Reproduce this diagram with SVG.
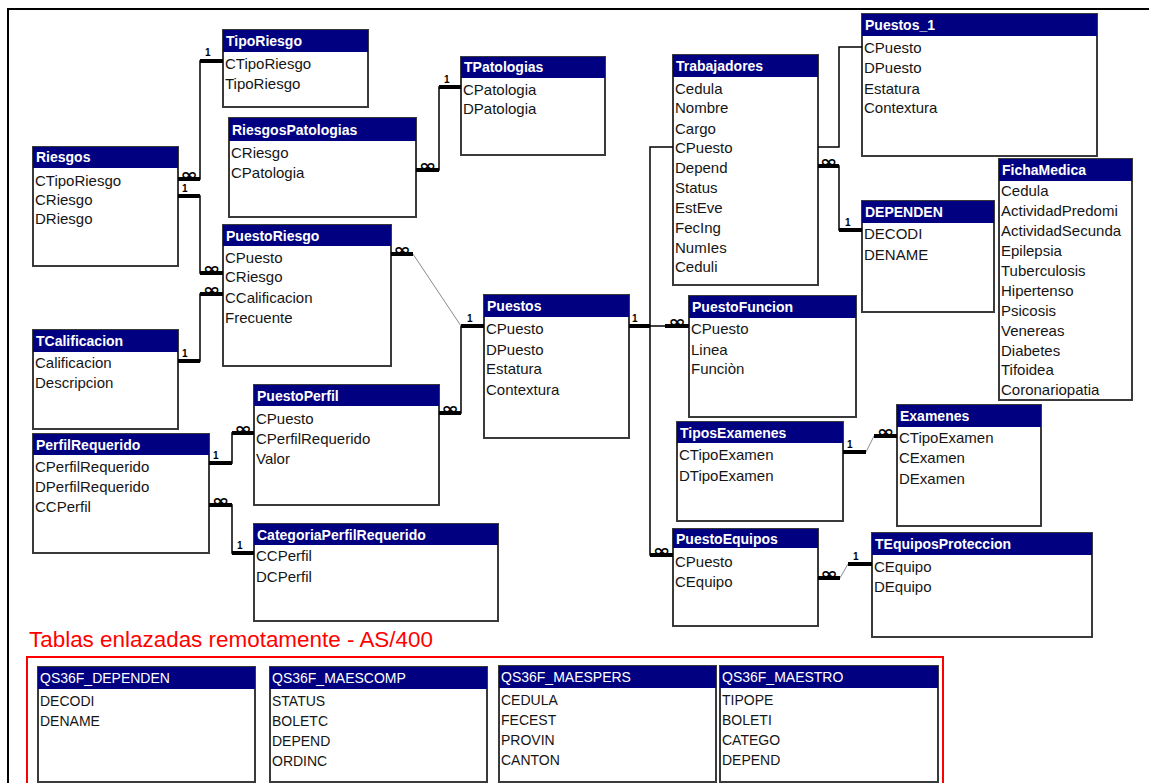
<svg xmlns="http://www.w3.org/2000/svg" width="1149" height="783" viewBox="0 0 1149 783">
<style>
.box{fill:#fff;stroke:#3a3a3a;stroke-width:2}
.hd{fill:#000080}
.ht{font:bold 14px "Liberation Sans",Arial,sans-serif;fill:#fff}
.f{font:15px "Liberation Sans",Arial,sans-serif;fill:#151515}
.hr{font:14px "Liberation Sans",Arial,sans-serif;fill:#fff}
.fr{font:14px "Liberation Sans",Arial,sans-serif;fill:#151515}
.ln{fill:none;stroke:#000;stroke-width:1.5}
.lg{fill:none;stroke:#8a8a8a;stroke-width:1}
.stub{fill:#000}
.one{font:bold 10px "Liberation Sans",Arial,sans-serif;fill:#000}
.inf{font:bold 16px "DejaVu Sans",sans-serif;fill:#000;text-anchor:middle}
.title{font:22px "Liberation Sans",Arial,sans-serif;fill:#f00}
</style>
<rect x="0" y="0" width="1149" height="783" fill="#fff"/>
<rect x="8" y="9" width="1160" height="800" fill="none" stroke="#000" stroke-width="2"/>

<g id="TipoRiesgo"><rect class="box" x="223" y="30" width="145" height="77"/><rect class="hd" x="223" y="30" width="145" height="22"/><text class="ht" x="226" y="46">TipoRiesgo</text><text class="f" x="225" y="69">CTipoRiesgo</text><text class="f" x="225" y="89">TipoRiesgo</text></g>

<g id="TPatologias"><rect class="box" x="461" y="57" width="144" height="98"/><rect class="hd" x="461" y="57" width="144" height="21"/><text class="ht" x="464" y="72">TPatologias</text><text class="f" x="463" y="95">CPatologia</text><text class="f" x="463" y="114">DPatologia</text></g>

<g id="Trabajadores"><rect class="box" x="673" y="55" width="145" height="230"/><rect class="hd" x="673" y="55" width="145" height="22"/><text class="ht" x="676" y="71">Trabajadores</text><text class="f" x="675" y="94">Cedula</text><text class="f" x="675" y="113">Nombre</text><text class="f" x="675" y="134">Cargo</text><text class="f" x="675" y="153">CPuesto</text><text class="f" x="675" y="173">Depend</text><text class="f" x="675" y="193">Status</text><text class="f" x="675" y="213">EstEve</text><text class="f" x="675" y="233">FecIng</text><text class="f" x="675" y="253">NumIes</text><text class="f" x="675" y="272">Ceduli</text></g>

<g id="Puestos_1"><rect class="box" x="862" y="14" width="235" height="142"/><rect class="hd" x="862" y="14" width="235" height="22"/><text class="ht" x="865" y="30">Puestos_1</text><text class="f" x="864" y="53">CPuesto</text><text class="f" x="864" y="73">DPuesto</text><text class="f" x="864" y="94">Estatura</text><text class="f" x="864" y="113">Contextura</text></g>

<g id="RiesgosPatologias"><rect class="box" x="229" y="118" width="187" height="99"/><rect class="hd" x="229" y="118" width="187" height="23"/><text class="ht" x="232" y="135">RiesgosPatologias</text><text class="f" x="231" y="158">CRiesgo</text><text class="f" x="231" y="178">CPatologia</text></g>

<g id="Riesgos"><rect class="box" x="33" y="147" width="145" height="119"/><rect class="hd" x="33" y="147" width="145" height="21"/><text class="ht" x="36" y="162">Riesgos</text><text class="f" x="35" y="186">CTipoRiesgo</text><text class="f" x="35" y="205">CRiesgo</text><text class="f" x="35" y="224">DRiesgo</text></g>

<g id="FichaMedica"><rect class="box" x="999" y="159" width="133" height="241"/><rect class="hd" x="999" y="159" width="133" height="22"/><text class="ht" x="1002" y="175">FichaMedica</text><text class="f" x="1001" y="196">Cedula</text><text class="f" x="1001" y="216">ActividadPredomi</text><text class="f" x="1001" y="236">ActividadSecunda</text><text class="f" x="1001" y="256">Epilepsia</text><text class="f" x="1001" y="276">Tuberculosis</text><text class="f" x="1001" y="296">Hipertenso</text><text class="f" x="1001" y="316">Psicosis</text><text class="f" x="1001" y="336">Venereas</text><text class="f" x="1001" y="356">Diabetes</text><text class="f" x="1001" y="375">Tifoidea</text><text class="f" x="1001" y="395">Coronariopatia</text></g>

<g id="DEPENDEN"><rect class="box" x="862" y="201" width="132" height="111"/><rect class="hd" x="862" y="201" width="132" height="22"/><text class="ht" x="865" y="217">DEPENDEN</text><text class="f" x="864" y="239">DECODI</text><text class="f" x="864" y="260">DENAME</text></g>

<g id="PuestoRiesgo"><rect class="box" x="223" y="225" width="168" height="141"/><rect class="hd" x="223" y="225" width="168" height="21"/><text class="ht" x="226" y="241">PuestoRiesgo</text><text class="f" x="225" y="263">CPuesto</text><text class="f" x="225" y="282">CRiesgo</text><text class="f" x="225" y="303">CCalificacion</text><text class="f" x="225" y="323">Frecuente</text></g>

<g id="Puestos"><rect class="box" x="484" y="295" width="145" height="143"/><rect class="hd" x="484" y="295" width="145" height="22"/><text class="ht" x="487" y="311">Puestos</text><text class="f" x="486" y="334">CPuesto</text><text class="f" x="486" y="355">DPuesto</text><text class="f" x="486" y="374">Estatura</text><text class="f" x="486" y="395">Contextura</text></g>

<g id="PuestoFuncion"><rect class="box" x="689" y="296" width="167" height="121"/><rect class="hd" x="689" y="296" width="167" height="22"/><text class="ht" x="692" y="312">PuestoFuncion</text><text class="f" x="691" y="334">CPuesto</text><text class="f" x="691" y="355">Linea</text><text class="f" x="691" y="374">Funciòn</text></g>

<g id="TCalificacion"><rect class="box" x="33" y="330" width="145" height="99"/><rect class="hd" x="33" y="330" width="145" height="22"/><text class="ht" x="36" y="346">TCalificacion</text><text class="f" x="35" y="368">Calificacion</text><text class="f" x="35" y="388">Descripcion</text></g>

<g id="PuestoPerfil"><rect class="box" x="254" y="385" width="185" height="120"/><rect class="hd" x="254" y="385" width="185" height="21"/><text class="ht" x="257" y="401">PuestoPerfil</text><text class="f" x="256" y="424">CPuesto</text><text class="f" x="256" y="444">CPerfilRequerido</text><text class="f" x="256" y="464">Valor</text></g>

<g id="Examenes"><rect class="box" x="897" y="405" width="144" height="121"/><rect class="hd" x="897" y="405" width="144" height="22"/><text class="ht" x="900" y="421">Examenes</text><text class="f" x="899" y="443">CTipoExamen</text><text class="f" x="899" y="463">CExamen</text><text class="f" x="899" y="484">DExamen</text></g>

<g id="TiposExamenes"><rect class="box" x="677" y="422" width="166" height="99"/><rect class="hd" x="677" y="422" width="166" height="21"/><text class="ht" x="680" y="438">TiposExamenes</text><text class="f" x="679" y="460">CTipoExamen</text><text class="f" x="679" y="481">DTipoExamen</text></g>

<g id="PerfilRequerido"><rect class="box" x="33" y="434" width="176" height="119"/><rect class="hd" x="33" y="434" width="176" height="21"/><text class="ht" x="36" y="450">PerfilRequerido</text><text class="f" x="35" y="472">CPerfilRequerido</text><text class="f" x="35" y="492">DPerfilRequerido</text><text class="f" x="35" y="512">CCPerfil</text></g>

<g id="CategoriaPerfilRequerido"><rect class="box" x="254" y="524" width="244" height="97"/><rect class="hd" x="254" y="524" width="244" height="21"/><text class="ht" x="257" y="540">CategoriaPerfilRequerido</text><text class="f" x="256" y="561">CCPerfil</text><text class="f" x="256" y="582">DCPerfil</text></g>

<g id="PuestoEquipos"><rect class="box" x="673" y="529" width="145" height="97"/><rect class="hd" x="673" y="529" width="145" height="19"/><text class="ht" x="676" y="544">PuestoEquipos</text><text class="f" x="675" y="567">CPuesto</text><text class="f" x="675" y="587">CEquipo</text></g>

<g id="TEquiposProteccion"><rect class="box" x="872" y="533" width="220" height="104"/><rect class="hd" x="872" y="533" width="220" height="22"/><text class="ht" x="875" y="549">TEquiposProteccion</text><text class="f" x="874" y="572">CEquipo</text><text class="f" x="874" y="592">DEquipo</text></g>

<g id="connectors">
<path class="ln" d="M178,179 H200 V61 H223"/>
<path class="ln" d="M178,196 H200 V273 H223"/>
<path class="ln" d="M178,361 H200 V294 H223"/>
<path class="ln" d="M416,170 H439 V87 H461"/>
<path class="ln" d="M391,254 H413"/><path class="lg" d="M413,254 L461,326"/><path class="ln" d="M461,326 H484"/>
<path class="ln" d="M439,413 H461 V326"/>
<path class="ln" d="M209,463 H232 V433 H254"/>
<path class="ln" d="M209,505 H232 V553 H254"/>
<path class="ln" d="M629,326 H689"/>
<path class="ln" d="M650,326 V147 H673"/>
<path class="ln" d="M650,326 V555 H673"/>
<path class="ln" d="M818,147 H839 V47 H862"/>
<path class="ln" d="M818,166 H839 V230 H862"/>
<path class="ln" d="M843,452 H866"/><path class="lg" d="M866,452 L874,436"/><path class="ln" d="M874,436 H897"/>
<path class="ln" d="M818,578 H840"/><path class="lg" d="M840,578 L848,564"/><path class="ln" d="M848,564 H872"/>

<rect class="stub" x="178" y="177" width="22" height="4"/><text class="inf" transform="translate(189,179.5) scale(1.3,1)">∞</text>
<rect class="stub" x="200" y="59" width="23" height="4"/><text class="one" x="205" y="56">1</text>
<rect class="stub" x="178" y="194" width="22" height="4"/><text class="one" x="182" y="192">1</text>
<rect class="stub" x="200" y="271" width="23" height="4"/><text class="inf" transform="translate(211.5,273.5) scale(1.3,1)">∞</text>
<rect class="stub" x="178" y="359" width="22" height="4"/><text class="one" x="182" y="357">1</text>
<rect class="stub" x="200" y="292" width="23" height="4"/><text class="inf" transform="translate(211.5,294.5) scale(1.3,1)">∞</text>
<rect class="stub" x="416" y="168" width="23" height="4"/><text class="inf" transform="translate(427.5,170.5) scale(1.3,1)">∞</text>
<rect class="stub" x="439" y="85" width="22" height="4"/><text class="one" x="444" y="83">1</text>
<rect class="stub" x="391" y="252" width="22" height="4"/><text class="inf" transform="translate(402,254.5) scale(1.3,1)">∞</text>
<rect class="stub" x="461" y="324" width="23" height="4"/><text class="one" x="467" y="322">1</text>
<rect class="stub" x="439" y="411" width="22" height="4"/><text class="inf" transform="translate(450,413.5) scale(1.3,1)">∞</text>
<rect class="stub" x="209" y="461" width="23" height="4"/><text class="one" x="213" y="459">1</text>
<rect class="stub" x="232" y="431" width="22" height="4"/><text class="inf" transform="translate(243,433.5) scale(1.3,1)">∞</text>
<rect class="stub" x="209" y="503" width="23" height="4"/><text class="inf" transform="translate(220.5,505.5) scale(1.3,1)">∞</text>
<rect class="stub" x="232" y="551" width="22" height="4"/><text class="one" x="237" y="549">1</text>
<rect class="stub" x="629" y="324" width="21" height="4"/><text class="one" x="632" y="322">1</text>
<rect class="stub" x="665" y="324" width="24" height="4"/><text class="inf" transform="translate(677,326.5) scale(1.3,1)">∞</text>
<rect class="stub" x="650" y="553" width="23" height="4"/><text class="inf" transform="translate(661.5,555.5) scale(1.3,1)">∞</text>
<rect class="stub" x="818" y="164" width="21" height="4"/><text class="inf" transform="translate(828.5,166.5) scale(1.3,1)">∞</text>
<rect class="stub" x="839" y="228" width="23" height="4"/><text class="one" x="845" y="226">1</text>
<rect class="stub" x="843" y="450" width="23" height="4"/><text class="one" x="847" y="448">1</text>
<rect class="stub" x="874" y="434" width="23" height="4"/><text class="inf" transform="translate(885.5,436.5) scale(1.3,1)">∞</text>
<rect class="stub" x="818" y="576" width="22" height="4"/><text class="inf" transform="translate(829,578.5) scale(1.3,1)">∞</text>
<rect class="stub" x="848" y="562" width="24" height="4"/><text class="one" x="853" y="560">1</text>
</g>

<text class="title" x="29" y="647" textLength="404" lengthAdjust="spacingAndGlyphs">Tablas enlazadas remotamente - AS/400</text>
<rect x="27" y="657" width="916" height="140" fill="none" stroke="#f00" stroke-width="2"/>

<g id="QS36F_DEPENDEN"><rect class="box" x="38" y="667" width="217" height="115"/><rect class="hd" x="38" y="667" width="217" height="22"/><text class="hr" x="40" y="683">QS36F_DEPENDEN</text><text class="fr" x="40" y="706">DECODI</text><text class="fr" x="40" y="726">DENAME</text></g>

<g id="QS36F_MAESCOMP"><rect class="box" x="270" y="667" width="217" height="115"/><rect class="hd" x="270" y="667" width="217" height="22"/><text class="hr" x="272" y="683">QS36F_MAESCOMP</text><text class="fr" x="272" y="706">STATUS</text><text class="fr" x="272" y="726">BOLETC</text><text class="fr" x="272" y="746">DEPEND</text><text class="fr" x="272" y="766">ORDINC</text></g>

<g id="QS36F_MAESPERS"><rect class="box" x="499" y="666" width="217" height="116"/><rect class="hd" x="499" y="666" width="217" height="22"/><text class="hr" x="501" y="682">QS36F_MAESPERS</text><text class="fr" x="501" y="705">CEDULA</text><text class="fr" x="501" y="725">FECEST</text><text class="fr" x="501" y="745">PROVIN</text><text class="fr" x="501" y="765">CANTON</text></g>

<g id="QS36F_MAESTRO"><rect class="box" x="720" y="666" width="218" height="116"/><rect class="hd" x="720" y="666" width="218" height="22"/><text class="hr" x="722" y="682">QS36F_MAESTRO</text><text class="fr" x="722" y="705">TIPOPE</text><text class="fr" x="722" y="725">BOLETI</text><text class="fr" x="722" y="745">CATEGO</text><text class="fr" x="722" y="765">DEPEND</text></g>
</svg>
